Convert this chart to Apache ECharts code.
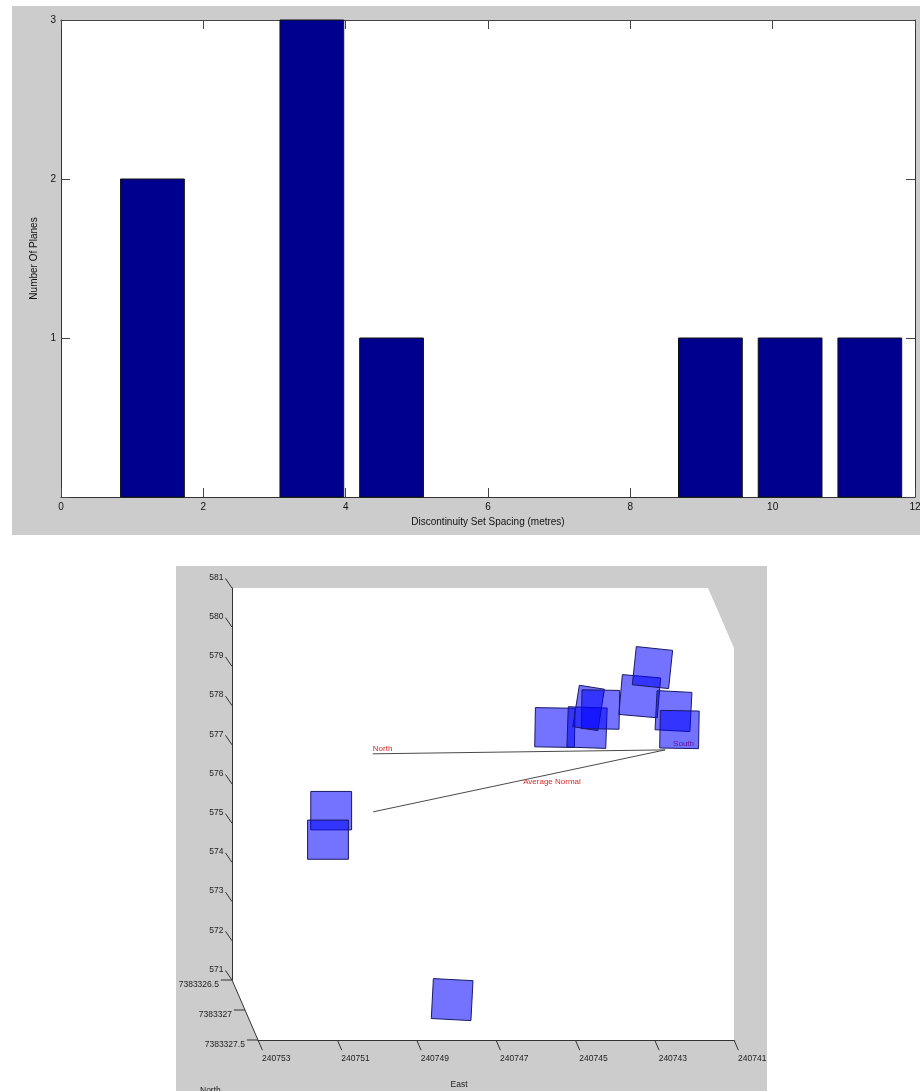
<!DOCTYPE html>
<html>
<head>
<meta charset="utf-8">
<script src="https://cdn.jsdelivr.net/npm/echarts@6/dist/echarts.min.js"></script>
<style>
  html, body { margin: 0; padding: 0; background: #ffffff; }
  #chart { width: 920px; height: 1091px; }
</style>
</head>
<body>
<div id="chart"></div>
<script>
// ---- Histogram of discontinuity set spacing ----
const binCenters = [1.285, 2.405, 3.525, 4.645, 5.765, 6.885, 8.005, 9.125, 10.245, 11.365];
const planeCounts = [2, 0, 3, 1, 0, 0, 0, 1, 1, 1];

// ---- 3D view of the mapped planes ----
const eastRange = [240741, 240753];
const northRange = [7383326.5, 7383327.5];
const elevRange = [571, 581];
const eastTicks = [240753, 240751, 240749, 240747, 240745, 240743, 240741];
const northTicks = [7383326.5, 7383327, 7383327.5];
const elevTicks = [571, 572, 573, 574, 575, 576, 577, 578, 579, 580, 581];

// plane patches as seen in the view: east, elevation, width (m), height (m), tilt (deg)
const planeEast   = [240744.86, 240744.05, 240744.01, 240743.71, 240742.72, 240742.40, 240741.87, 240741.72, 240750.50, 240750.58, 240747.45];
const planeElev   = [577.44, 577.44, 577.94, 577.90, 578.24, 578.97, 577.86, 577.39, 575.32, 574.58, 570.50];
const planeWidth  = [1.00, 0.98, 0.64, 0.95, 0.97, 0.92, 0.88, 0.98, 1.03, 1.03, 1.00];
const planeHeight = [1.00, 1.03, 1.07, 0.99, 1.02, 0.98, 1.00, 0.96, 0.98, 1.00, 1.02];
const planeTilt   = [1, 2, 9, 1, 5, 6, 3, 1, 0, 0, 3];

// direction lines from the south point (east, elevation)
const southPoint = [240742.08, 576.87];
const northEnd   = [240749.45, 576.77];
const normalEnd  = [240749.44, 575.29];

// annotation texts and their anchors (east, elevation)
const noteTexts = ['North', 'Average Normal', 'South'];
const noteEast  = [240749.45, 240745.66, 240741.88];
const noteElev  = [576.89, 576.05, 577.02];

const FONT = '"Liberation Sans", Arial, sans-serif';
const NORTH_SHEAR = [26, 60];   // screen offset of the full north range (oblique view)
const BAR_FRACTION = 0.8;
const binStep = binCenters[1] - binCenters[0];

function project(api, e, n, z) {
  const p = api.coord([e, z]);
  const t = (n - northRange[0]) / (northRange[1] - northRange[0]);
  return [p[0] + t * NORTH_SHEAR[0], p[1] + t * NORTH_SHEAR[1]];
}

function renderBar(params, api) {
  const x = api.value(0), n = api.value(1);
  if (!n) return null;
  const half = binStep * BAR_FRACTION / 2;
  const p0 = api.coord([x - half, n]);
  const p1 = api.coord([x + half, 0]);
  return {
    type: 'rect',
    shape: { x: p0[0], y: p0[1], width: p1[0] - p0[0], height: p1[1] - p0[1] },
    style: { fill: '#00008f', stroke: '#111111', lineWidth: 1 }
  };
}

function renderBox(params, api) {
  const eL = eastRange[1], eR = eastRange[0];
  const nB = northRange[0], nF = northRange[1];
  const zB = elevRange[0], zT = elevRange[1];
  const pts = [
    project(api, eL, nB, zT), project(api, eR, nB, zT), project(api, eR, nF, zT),
    project(api, eR, nF, zB), project(api, eL, nF, zB), project(api, eL, nB, zB)
  ];
  return { type: 'polygon', shape: { points: pts }, style: { fill: '#ffffff' } };
}

function renderNorthAxis(params, api) {
  const e = api.value(0), z = api.value(1), n = api.value(2);
  const p = project(api, e, n, z);
  const q = project(api, e + 0.28, n, z);
  const children = [
    { type: 'line', shape: { x1: p[0], y1: p[1], x2: q[0], y2: q[1] }, style: { stroke: '#333', lineWidth: 1 } },
    { type: 'text', x: q[0] - 2, y: q[1] + 5,
      style: { text: String(n), fill: '#222', font: '8.5px ' + FONT, align: 'right', verticalAlign: 'middle' } }
  ];
  if (params.dataIndex === 0) {
    const a = project(api, e, northRange[0], z);
    const b = project(api, e, northRange[1], z);
    children.push({ type: 'line', shape: { x1: a[0], y1: a[1], x2: b[0], y2: b[1] }, style: { stroke: '#333', lineWidth: 1 } });
    children.push({ type: 'text', x: b[0] - 58, y: b[1] + 46,
      style: { text: 'North', fill: '#222', font: '8.5px ' + FONT, align: 'left', verticalAlign: 'top' } });
  }
  return { type: 'group', children: children };
}

function renderEastTick(params, api) {
  const p = project(api, api.value(0), northRange[1], api.value(1));
  return { type: 'line', shape: { x1: p[0], y1: p[1], x2: p[0] + NORTH_SHEAR[0] * 0.17, y2: p[1] + NORTH_SHEAR[1] * 0.17 },
           style: { stroke: '#333', lineWidth: 1 } };
}

function renderElevTick(params, api) {
  const z = api.value(1);
  const p = project(api, api.value(0), northRange[0], z);
  const q = [p[0] - 6.5, p[1] - 9.5];
  return { type: 'group', children: [
    { type: 'line', shape: { x1: p[0], y1: p[1], x2: q[0], y2: q[1] }, style: { stroke: '#333', lineWidth: 1 } },
    { type: 'text', x: q[0] - 2, y: q[1] - 1,
      style: { text: String(z), fill: '#222', font: '8.5px ' + FONT, align: 'right', verticalAlign: 'middle' } }
  ] };
}

function renderRefLine(params, api) {
  const a = api.coord([api.value(0), api.value(1)]);
  const b = api.coord([api.value(2), api.value(3)]);
  return { type: 'line', shape: { x1: a[0], y1: a[1], x2: b[0], y2: b[1] }, style: { stroke: '#4a4a4a', lineWidth: 1 } };
}

function renderNote(params, api) {
  const p = api.coord([api.value(0), api.value(1)]);
  return { type: 'text', x: p[0], y: p[1],
    style: { text: noteTexts[params.dataIndex], fill: '#d42a2a', font: '8px ' + FONT, align: 'left', verticalAlign: 'middle' } };
}

function renderPlane(params, api) {
  const c = api.coord([api.value(0), api.value(1)]);
  const s = api.size([api.value(2), api.value(3)]);
  const hw = Math.abs(s[0]) / 2, hh = Math.abs(s[1]) / 2;
  const a = api.value(4) * Math.PI / 180;
  const cs = Math.cos(a), sn = Math.sin(a);
  const pts = [[-hw, -hh], [hw, -hh], [hw, hh], [-hw, hh]].map(function (d) {
    return [c[0] + d[0] * cs - d[1] * sn, c[1] + d[0] * sn + d[1] * cs];
  });
  return { type: 'polygon', shape: { points: pts },
           style: { fill: 'rgba(0,0,255,0.55)', stroke: '#1a1a66', lineWidth: 1 } };
}

const chart = echarts.init(document.getElementById('chart'), null, { renderer: 'canvas', width: 920, height: 1091 });

const tickStyle = { color: '#444', width: 1 };
const option = {
  animation: false,
  textStyle: { fontFamily: FONT },
  graphic: [
    { type: 'rect', z: -100, silent: true, shape: { x: 12, y: 6, width: 908, height: 529 }, style: { fill: '#cccccc' } },
    { type: 'rect', z: -100, silent: true, shape: { x: 176, y: 566, width: 591, height: 525 }, style: { fill: '#cccccc' } }
  ],
  grid: [
    { left: 61, top: 20, right: 5, bottom: 594, show: true, backgroundColor: '#ffffff', borderWidth: 0, outerBoundsMode: 'none' },
    { left: 232, top: 588, right: 212, bottom: 111, outerBoundsMode: 'none' },
    { left: 258, top: 648, right: 186, bottom: 51, outerBoundsMode: 'none' }
  ],
  xAxis: [
    { gridIndex: 0, type: 'value', min: 0, max: 12, interval: 2, position: 'bottom',
      name: 'Discontinuity Set Spacing (metres)', nameLocation: 'middle', nameGap: 20,
      nameTextStyle: { fontSize: 10, color: '#111', fontFamily: FONT },
      axisLine: { show: true, onZero: false, lineStyle: { color: '#333' } },
      axisTick: { show: true, inside: true, length: 9, lineStyle: tickStyle },
      axisLabel: { fontSize: 10, color: '#111', margin: 5, fontFamily: FONT },
      splitLine: { show: false } },
    { gridIndex: 0, type: 'value', min: 0, max: 12, interval: 2, position: 'top',
      axisLine: { show: true, onZero: false, lineStyle: { color: '#444' } },
      axisTick: { show: true, inside: true, length: 9, lineStyle: tickStyle },
      axisLabel: { show: false }, splitLine: { show: false } },
    { gridIndex: 1, type: 'value', min: eastRange[0], max: eastRange[1], inverse: true, show: false },
    { gridIndex: 2, type: 'value', min: eastRange[0], max: eastRange[1], interval: 2, inverse: true, position: 'bottom',
      name: 'East', nameLocation: 'middle', nameGap: 40,
      nameTextStyle: { fontSize: 8.5, color: '#222', fontFamily: FONT, padding: [0, 74, 0, 0] },
      axisLine: { show: true, onZero: false, lineStyle: { color: '#333' } },
      axisTick: { show: false },
      axisLabel: { fontSize: 8.5, color: '#222', margin: 14, align: 'left', padding: [0, 0, 0, 4],
                   fontFamily: FONT, formatter: function (v) { return String(v); } },
      splitLine: { show: false } }
  ],
  yAxis: [
    { gridIndex: 0, type: 'value', min: 0, max: 3, interval: 1, position: 'left',
      name: 'Number Of Planes', nameLocation: 'middle', nameGap: 14,
      nameTextStyle: { fontSize: 10, color: '#111', fontFamily: FONT },
      axisLine: { show: true, onZero: false, lineStyle: { color: '#333' } },
      axisTick: { show: true, inside: true, length: 9, lineStyle: tickStyle },
      axisLabel: { fontSize: 10, color: '#111', margin: 5, fontFamily: FONT,
                   formatter: function (v) { return v === 0 ? '' : String(v); } },
      splitLine: { show: false } },
    { gridIndex: 0, type: 'value', min: 0, max: 3, interval: 1, position: 'right',
      axisLine: { show: true, onZero: false, lineStyle: { color: '#333' } },
      axisTick: { show: true, inside: true, length: 9, lineStyle: tickStyle },
      axisLabel: { show: false }, splitLine: { show: false } },
    { gridIndex: 1, type: 'value', min: elevRange[0], max: elevRange[1], interval: 1, position: 'left',
      axisLine: { show: true, onZero: false, lineStyle: { color: '#333' } },
      axisTick: { show: false }, axisLabel: { show: false },
      splitLine: { show: false } },
    { gridIndex: 2, type: 'value', min: elevRange[0], max: elevRange[1], show: false }
  ],
  series: [
    { type: 'custom', name: 'Planes per spacing bin', xAxisIndex: 0, yAxisIndex: 0, renderItem: renderBar,
      encode: { x: 0, y: 1 }, data: binCenters.map(function (c, i) { return [c, planeCounts[i]]; }) },
    { type: 'custom', xAxisIndex: 2, yAxisIndex: 2, z: -1, silent: true, renderItem: renderBox,
      encode: { x: 0, y: 1 }, data: [[eastRange[1], elevRange[0]]] },
    { type: 'custom', xAxisIndex: 2, yAxisIndex: 2, silent: true, renderItem: renderNorthAxis,
      encode: { x: 0, y: 1 }, data: northTicks.map(function (n) { return [eastRange[1], elevRange[0], n]; }) },
    { type: 'custom', xAxisIndex: 2, yAxisIndex: 2, silent: true, renderItem: renderEastTick,
      encode: { x: 0, y: 1 }, data: eastTicks.map(function (e) { return [e, elevRange[0]]; }) },
    { type: 'custom', xAxisIndex: 2, yAxisIndex: 2, silent: true, renderItem: renderElevTick,
      encode: { x: 0, y: 1 }, data: elevTicks.map(function (z) { return [eastRange[1], z]; }) },
    { type: 'custom', xAxisIndex: 2, yAxisIndex: 2, z: 3, silent: true, renderItem: renderRefLine,
      encode: { x: [0, 2], y: [1, 3] },
      data: [[southPoint[0], southPoint[1], northEnd[0], northEnd[1]],
             [southPoint[0], southPoint[1], normalEnd[0], normalEnd[1]]] },
    { type: 'custom', xAxisIndex: 2, yAxisIndex: 2, z: 4, silent: true, renderItem: renderNote,
      encode: { x: 0, y: 1 }, data: noteTexts.map(function (t, i) { return [noteEast[i], noteElev[i]]; }) },
    { type: 'custom', name: 'Planes', xAxisIndex: 2, yAxisIndex: 2, z: 5, renderItem: renderPlane,
      encode: { x: 0, y: 1 },
      data: planeEast.map(function (e, i) { return [e, planeElev[i], planeWidth[i], planeHeight[i], planeTilt[i]]; }) }
  ]
};
chart.setOption(option);
</script>
</body>
</html>
